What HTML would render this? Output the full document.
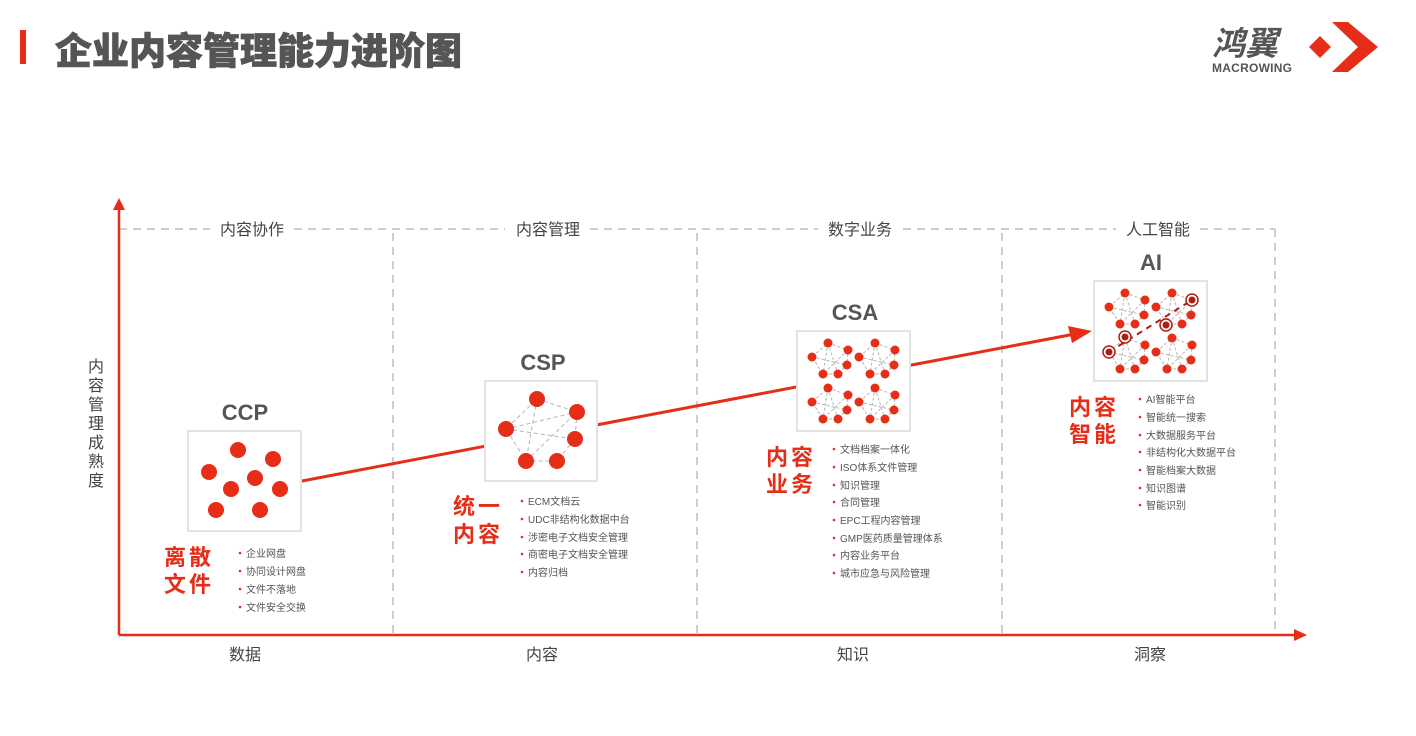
<!DOCTYPE html>
<html><head><meta charset="utf-8"><style>
html,body{margin:0;padding:0;background:#fff;}
svg{display:block;font-family:"Liberation Sans","Noto Sans CJK SC",sans-serif;}
</style></head><body>
<svg width="1416" height="736" viewBox="0 0 1416 736" xmlns="http://www.w3.org/2000/svg">
<defs>
<g id="cl">
 <g stroke="#b5b5b5" stroke-width="1" stroke-dasharray="3,2" fill="none">
  <path d="M31 12L51 19L50 34L41 43L26 43L15 26Z M31 12L26 43 M15 26L50 34 M31 12L41 43 M51 19L26 43"/>
 </g>
 <g fill="#e62d17">
  <circle cx="31" cy="12" r="4.5"/><circle cx="51" cy="19" r="4.5"/><circle cx="15" cy="26" r="4.5"/>
  <circle cx="50" cy="34" r="4.5"/><circle cx="26" cy="43" r="4.5"/><circle cx="41" cy="43" r="4.5"/>
 </g>
</g>
<g id="net"><use href="#cl"/><use href="#cl" x="47"/><use href="#cl" y="45"/><use href="#cl" x="47" y="45"/></g>
</defs>

<!-- header -->
<rect x="20" y="30" width="6" height="34" fill="#e62d17"/>
<text x="55" y="64" font-size="37" font-weight="900" fill="#555" stroke="#555" stroke-width="0.8">企业内容管理能力进阶图</text>
<text x="1212" y="55" font-size="33" font-weight="bold" font-style="italic" fill="#555">鸿翼</text>
<text x="1212" y="72" font-size="12" font-weight="bold" fill="#555" textLength="80">MACROWING</text>
<polygon points="1309,47 1320,36 1331,47 1320,58" fill="#e62d17"/>
<polygon points="1332,22 1348,22 1378,47 1348,72 1332,72 1358,47" fill="#e62d17"/>

<!-- grid -->
<g stroke="#bdbdbd" stroke-width="1.5" stroke-dasharray="8,6" fill="none">
 <line x1="119" y1="229" x2="210" y2="229"/><line x1="294" y1="229" x2="505" y2="229"/>
 <line x1="590" y1="229" x2="818" y2="229"/><line x1="903" y1="229" x2="1116" y2="229"/>
 <line x1="1200" y1="229" x2="1275" y2="229"/>
 <line x1="393" y1="233" x2="393" y2="633"/><line x1="697" y1="233" x2="697" y2="633"/>
 <line x1="1002" y1="233" x2="1002" y2="633"/><line x1="1275" y1="229" x2="1275" y2="633"/>
</g>
<g font-size="16" fill="#444" text-anchor="middle">
 <text x="252" y="235">内容协作</text><text x="548" y="235">内容管理</text>
 <text x="860" y="235">数字业务</text><text x="1158" y="235">人工智能</text>
 <text x="245" y="660">数据</text><text x="542" y="660">内容</text>
 <text x="853" y="660">知识</text><text x="1150" y="660">洞察</text>
</g>
<g font-size="16" fill="#444" text-anchor="middle">
 <text x="96" y="372">内</text><text x="96" y="391">容</text><text x="96" y="410">管</text>
 <text x="96" y="429">理</text><text x="96" y="448">成</text><text x="96" y="467">熟</text><text x="96" y="486">度</text>
</g>

<!-- axes -->
<line x1="119" y1="635" x2="119" y2="208" stroke="#e62d17" stroke-width="2.5"/>
<polygon points="113,210 119,198 125,210" fill="#e62d17"/>
<line x1="119" y1="635" x2="1296" y2="635" stroke="#e62d17" stroke-width="2.5"/>
<polygon points="1294,629 1307,635 1294,641" fill="#e62d17"/>

<!-- trend line -->
<line x1="302" y1="481" x2="1080" y2="333" stroke="#e62d17" stroke-width="3"/>
<polygon points="1068,326 1092,331 1072,343" fill="#e62d17"/>

<!-- boxes -->
<g fill="#fff" stroke="#e3e3e3" stroke-width="2">
 <rect x="188" y="431" width="113" height="100"/>
 <rect x="485" y="381" width="112" height="100"/>
 <rect x="797" y="331" width="113" height="100"/>
 <rect x="1094" y="281" width="113" height="100"/>
</g>
<g font-size="22" font-weight="bold" fill="#555" text-anchor="middle">
 <text x="245" y="420">CCP</text><text x="543" y="370">CSP</text>
 <text x="855" y="320">CSA</text><text x="1151" y="270">AI</text>
</g>

<!-- CCP dots -->
<g fill="#e62d17">
 <circle cx="238" cy="450" r="8"/><circle cx="273" cy="459" r="8"/><circle cx="209" cy="472" r="8"/>
 <circle cx="255" cy="478" r="8"/><circle cx="231" cy="489" r="8"/><circle cx="280" cy="489" r="8"/>
 <circle cx="216" cy="510" r="8"/><circle cx="260" cy="510" r="8"/>
</g>
<!-- CSP -->
<g stroke="#b5b5b5" stroke-dasharray="4,3" fill="none">
 <path d="M537 399L577 412L575 439L557 461L526 461L506 429Z M537 399L526 461 M506 429L575 439 M506 429L577 412 M526 461L577 412"/>
</g>
<g fill="#e62d17">
 <circle cx="537" cy="399" r="8"/><circle cx="577" cy="412" r="8"/><circle cx="506" cy="429" r="8"/>
 <circle cx="575" cy="439" r="8"/><circle cx="526" cy="461" r="8"/><circle cx="557" cy="461" r="8"/>
</g>
<!-- CSA / AI -->
<use href="#net" x="797" y="331"/>
<use href="#net" x="1094" y="281"/>
<g stroke="#b01c10" stroke-width="2" stroke-dasharray="6,5"><line x1="1109" y1="352" x2="1192" y2="300"/></g>
<g fill="#fff" stroke="#b01c10" stroke-width="1.5">
 <circle cx="1109" cy="352" r="6"/><circle cx="1125" cy="337" r="6"/><circle cx="1166" cy="325" r="6"/><circle cx="1192" cy="300" r="6"/>
</g>
<g fill="#b01c10">
 <circle cx="1109" cy="352" r="3.5"/><circle cx="1125" cy="337" r="3.5"/><circle cx="1166" cy="325" r="3.5"/><circle cx="1192" cy="300" r="3.5"/>
</g>

<!-- red labels -->
<g font-size="22" font-weight="bold" fill="#e62d17" letter-spacing="3">
 <text x="164" y="565">离散</text><text x="164" y="592">文件</text>
 <text x="453" y="514">统一</text><text x="453" y="542">内容</text>
 <text x="766" y="465">内容</text><text x="766" y="492">业务</text>
 <text x="1069" y="415">内容</text><text x="1069" y="442">智能</text>
</g>

<!-- lists -->
<g font-size="10" fill="#555">
 <g transform="translate(246,0)">
  <text y="557">企业网盘</text><text y="575">协同设计网盘</text><text y="593">文件不落地</text><text y="611">文件安全交换</text>
 </g>
 <g transform="translate(528,0)">
  <text y="505">ECM文档云</text><text y="523">UDC非结构化数据中台</text><text y="541">涉密电子文档安全管理</text><text y="558">商密电子文档安全管理</text><text y="576">内容归档</text>
 </g>
 <g transform="translate(840,0)">
  <text y="453">文档档案一体化</text><text y="471">ISO体系文件管理</text><text y="489">知识管理</text><text y="506">合同管理</text><text y="524">EPC工程内容管理</text><text y="542">GMP医药质量管理体系</text><text y="559">内容业务平台</text><text y="577">城市应急与风险管理</text>
 </g>
 <g transform="translate(1146,0)">
  <text y="403">AI智能平台</text><text y="421">智能统一搜索</text><text y="439">大数据服务平台</text><text y="456">非结构化大数据平台</text><text y="474">智能档案大数据</text><text y="492">知识图谱</text><text y="509">智能识别</text>
 </g>
</g>
<g fill="#e62d17">
 <circle cx="240" cy="553" r="1.3"/><circle cx="240" cy="571" r="1.3"/><circle cx="240" cy="589" r="1.3"/><circle cx="240" cy="607" r="1.3"/>
 <circle cx="522" cy="501" r="1.3"/><circle cx="522" cy="519" r="1.3"/><circle cx="522" cy="537" r="1.3"/><circle cx="522" cy="554" r="1.3"/><circle cx="522" cy="572" r="1.3"/>
 <circle cx="834" cy="449" r="1.3"/><circle cx="834" cy="467" r="1.3"/><circle cx="834" cy="485" r="1.3"/><circle cx="834" cy="502" r="1.3"/><circle cx="834" cy="520" r="1.3"/><circle cx="834" cy="538" r="1.3"/><circle cx="834" cy="555" r="1.3"/><circle cx="834" cy="573" r="1.3"/>
 <circle cx="1140" cy="399" r="1.3"/><circle cx="1140" cy="417" r="1.3"/><circle cx="1140" cy="435" r="1.3"/><circle cx="1140" cy="452" r="1.3"/><circle cx="1140" cy="470" r="1.3"/><circle cx="1140" cy="488" r="1.3"/><circle cx="1140" cy="505" r="1.3"/>
</g>
</svg>
</body></html>
